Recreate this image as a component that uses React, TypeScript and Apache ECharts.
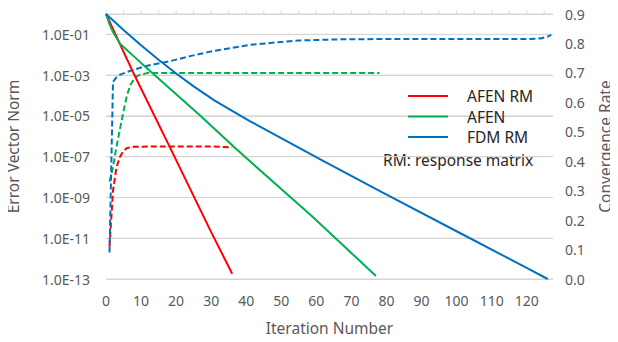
import React, { useEffect, useRef } from "react";
import * as echarts from "echarts";

// ---- data ----
const afenRmIter = [0, 8, 18, 30, 36];
const afenRmError = [1, 1.1e-3, 3.5e-7, 2e-11, 1.8e-13];

const afenIter = [0, 1, 2, 4, 10, 27, 37, 59, 77];
const afenError = [1, 0.32, 0.13, 0.035, 4e-3, 1e-5, 2.5e-7, 1.1e-10, 1.4e-13];

const fdmRmIter = [0, 5, 10, 15, 20, 25, 31, 41, 61, 78, 100, 120, 126];
const fdmRmError = [1, 0.166, 0.0295, 5.75e-3, 1.2e-3, 2.8e-4, 5.6e-5, 5.6e-6, 7.6e-8, 2.1e-9, 2.2e-11, 3.5e-13, 1e-13];

const afenRmRateIter = [1, 2, 3, 4, 5, 6, 8, 12, 20, 30, 36];
const afenRmRate = [0.11, 0.3, 0.38, 0.415, 0.435, 0.445, 0.449, 0.45, 0.45, 0.45, 0.447];

const afenRateIter = [1, 2, 3, 4, 5, 6, 7, 8, 9, 10, 12, 20, 40, 60, 78];
const afenRate = [0.33, 0.38, 0.45, 0.51, 0.57, 0.625, 0.66, 0.68, 0.69, 0.695, 0.7, 0.7, 0.7, 0.7, 0.7];

const fdmRmRateIter = [1, 2, 3, 4, 6, 8, 12, 18, 24, 30, 41, 50, 55, 67, 80, 100, 120, 124, 126, 127];
const fdmRmRate = [0.09, 0.67, 0.685, 0.694, 0.703, 0.711, 0.725, 0.739, 0.757, 0.773, 0.795, 0.805, 0.81, 0.814, 0.815, 0.815, 0.815, 0.817, 0.823, 0.829];

const seriesNames = ["AFEN RM", "AFEN", "FDM RM"];
const seriesColors = ["#FF0000", "#00B050", "#0070C0"];
// horizontal gridlines, in decades above 1.0E-13 (1.0E-13 ... 1.0E-01, top = 1.0E+00)
const gridValues = [0, 2, 4, 6, 8, 10, 12, 13];
const topTickValues = [0, 5, 10, 15, 20, 25, 30, 35, 40, 45, 50, 55, 60, 65, 70, 75, 80, 85, 90, 95, 100, 105, 110, 115, 120, 125];
const X_MIN = 0;
const X_MAX = 127.5;
const note = "RM: response matrix";
const xTitle = "Iteration Number";
const yTitle = "Error Vector Norm";
const y2Title = "Convergence Rate";

const LOG_MIN = -13; // 1.0E-13 at the bottom
const toAxis = (v: number) => Math.log10(v) - LOG_MIN;
const zipLog = (xs: number[], ys: number[]) => xs.map((x, i) => [x, toAxis(ys[i])]);
const zip = (xs: number[], ys: number[]) => xs.map((x, i) => [x, ys[i]]);

const FONT = "'Noto Sans', 'Open Sans', sans-serif";
const GRAY = "#595959";
const GRID = "#d4d4d4";

export default function App() {
  const ref = useRef<HTMLDivElement>(null);
  useEffect(() => {
    if (!ref.current) return;
    const chart = echarts.init(ref.current, null, { renderer: "svg" });
    const errorData = [
      zipLog(afenRmIter, afenRmError),
      zipLog(afenIter, afenError),
      zipLog(fdmRmIter, fdmRmError),
    ];
    const rateData = [
      zip(afenRmRateIter, afenRmRate),
      zip(afenRateIter, afenRate),
      zip(fdmRmRateIter, fdmRmRate),
    ];
    const series: any[] = [];
    // gridlines drawn as thin line series through the axes
    gridValues.forEach((v) => {
      series.push({
        type: "line",
        xAxisIndex: 0,
        yAxisIndex: 0,
        data: [
          [X_MIN, v],
          [X_MAX, v],
        ],
        symbol: "none",
        silent: true,
        clip: false,
        lineStyle: { color: GRID, width: 1 },
        z: 1,
      });
    });
    // small tick marks above the top edge
    series.push({
      type: "scatter",
      xAxisIndex: 0,
      yAxisIndex: 0,
      data: topTickValues.map((x) => [x, gridValues[gridValues.length - 1]]),
      symbol: "rect",
      symbolSize: [1, 4],
      symbolOffset: [0, -2],
      silent: true,
      clip: false,
      itemStyle: { color: GRID },
      z: 1,
    });
    seriesNames.forEach((name, i) => {
      series.push({
        name: name + " rate",
        type: "line",
        xAxisIndex: 0,
        yAxisIndex: 1,
        data: rateData[i],
        symbol: "none",
        lineStyle: { color: seriesColors[i], width: 2, type: [6, 3] },
        itemStyle: { color: seriesColors[i] },
        z: 2,
      });
    });
    seriesNames.forEach((name, i) => {
      series.push({
        name,
        type: "line",
        xAxisIndex: 0,
        yAxisIndex: 0,
        data: errorData[i],
        symbol: "none",
        lineStyle: { color: seriesColors[i], width: 2 },
        itemStyle: { color: seriesColors[i] },
        z: 3,
      });
    });

    chart.setOption({
      animation: false,
      textStyle: { fontFamily: FONT },
      grid: { left: 106, right: 65, top: 14, bottom: 63, containLabel: false, outerBoundsMode: "none" },
      legend: {
        data: seriesNames,
        orient: "vertical",
        left: 403,
        top: 83,
        icon: "rect",
        itemWidth: 40,
        itemHeight: 2,
        itemGap: 4.5,
        textStyle: { fontSize: 15.5, lineHeight: 16, color: "#262626", fontFamily: FONT, padding: [0, 0, 0, 14] },
      },
      graphic: [
        {
          type: "text",
          left: 383,
          top: 152,
          style: { text: note, fontSize: 15.5, fill: "#262626", fontFamily: FONT },
        },
        {
          type: "text",
          x: 13,
          y: 146.5,
          rotation: Math.PI / 2,
          style: { text: yTitle, fontSize: 15.5, fill: GRAY, fontFamily: FONT, align: "center", verticalAlign: "middle" },
        },
        {
          type: "text",
          x: 605,
          y: 146.5,
          rotation: Math.PI / 2,
          style: { text: y2Title, fontSize: 15.5, fill: GRAY, fontFamily: FONT, align: "center", verticalAlign: "middle" },
        },
        {
          type: "text",
          x: 329.5,
          y: 328,
          style: { text: xTitle, fontSize: 15.5, fill: GRAY, fontFamily: FONT, align: "center", verticalAlign: "middle" },
        },
      ],
      xAxis: [
        {
          type: "value",
          min: X_MIN,
          max: X_MAX,
          interval: 10,
          position: "bottom",
          axisLine: { show: false },
          axisTick: { show: false },
          splitLine: { show: false },
          axisLabel: {
            fontSize: 14,
            color: GRAY,
            margin: 14,
            fontFamily: FONT,
            formatter: (v: number) => (v % 10 === 0 ? String(v) : ""),
          },
        },
      ],
      yAxis: [
        {
          type: "value",
          min: 0,
          max: 13,
          interval: 2,
          position: "left",
          axisLine: { show: false },
          axisTick: { show: false },
          splitLine: { show: true, lineStyle: { color: GRID, width: 1 } },
          axisLabel: {
            fontSize: 14,
            color: GRAY,
            margin: 16,
            fontFamily: FONT,
            formatter: (v: number) => {
              if (v >= 13) return "";
              const e = Math.round(v + LOG_MIN);
              const sign = e < 0 ? "-" : "+";
              return "1.0E" + sign + String(Math.abs(e)).padStart(2, "0");
            },
          },
        },
        {
          type: "value",
          min: 0,
          max: 0.9,
          interval: 0.1,
          position: "right",
          axisLine: { show: false },
          axisTick: { show: false },
          splitLine: { show: false },
          axisLabel: {
            fontSize: 14,
            color: GRAY,
            margin: 12,
            fontFamily: FONT,
            formatter: (v: number) => v.toFixed(1),
          },
        },
      ],
      series,
    });
    return () => chart.dispose();
  }, []);
  return <div ref={ref} style={{ width: 618, height: 342, margin: -8 }} />;
}
